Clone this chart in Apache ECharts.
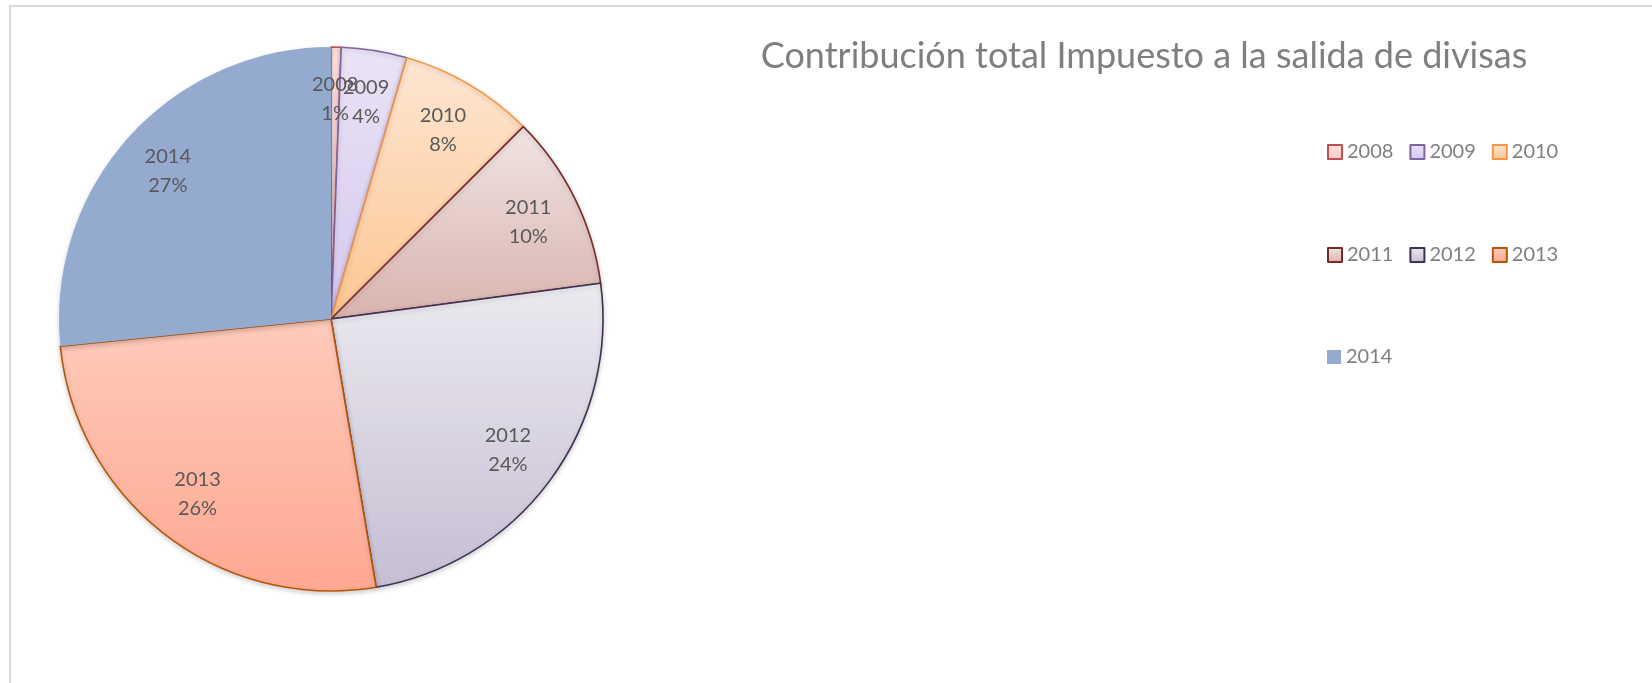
<!DOCTYPE html>
<html>
<head>
<meta charset="utf-8">
<script src="https://cdn.jsdelivr.net/npm/echarts@6/dist/echarts.min.js"></script>
<style>
html, body { margin: 0; padding: 0; background: #ffffff; }
#chart { width: 1652px; height: 683px; }
</style>
</head>
<body>
<div id="chart"></div>
<script>
// datos: participacion por año (en %)
var years = ['2008', '2009', '2010', '2011', '2012', '2013', '2014'];
var shares = [0.6, 3.9, 8.0, 10.4, 24.45, 26.05, 26.6];
var legendRows = [['2008', '2009', '2010'], ['2011', '2012', '2013'], ['2014']];

// colores: degradado arriba/abajo y borde de cada porcion
var topColors = ['#ffe2e2', '#ebe3f6', '#fee6d2', '#f0e4e3', '#eceaf0', '#fecbbb', '#95aacf'];
var bottomColors = ['#fcc9c9', '#d5c8ee', '#fcc692', '#d9b3ae', '#c6bed3', '#fea891', '#95aacf'];
var borderColors = ['#c0504d', '#8064a2', '#f79646', '#772c2a', '#3f3151', '#b65708', null];

var fontName = 'Lato';

function gradient(i) {
    return new echarts.graphic.LinearGradient(0, 0, 0, 1, [
        {offset: 0, color: topColors[i]},
        {offset: 1, color: bottomColors[i]}
    ], false);
}

var total = 0;
for (var i = 0; i < shares.length; i++) {
    total += shares[i];
}

var pieData = [];
var labelData = [];
for (var i = 0; i < years.length; i++) {
    var style = {color: gradient(i)};
    if (borderColors[i]) {
        style.borderColor = borderColors[i];
        style.borderWidth = 1.6;
    } else {
        style.borderWidth = 0;
    }
    pieData.push({name: years[i], value: shares[i], itemStyle: style});
    labelData.push({name: years[i], value: shares[i]});
}

var legends = [];
var rowTops = [137, 240, 342];
for (var r = 0; r < legendRows.length; r++) {
    legends.push({
        left: 1322,
        top: rowTops[r],
        orient: 'horizontal',
        itemWidth: 14,
        itemHeight: 14,
        itemGap: 16,
        icon: 'rect',
        selectedMode: false,
        data: legendRows[r],
        textStyle: {
            color: '#7f7f7f',
            fontFamily: fontName,
            fontSize: 20,
            lineHeight: 20,
            padding: [0, 0, 0, 0]
        }
    });
}

var chart = echarts.init(document.getElementById('chart'));
var option = {
    backgroundColor: '#ffffff',
    animation: false,
    title: {
        text: 'Contribución total Impuesto a la salida de divisas',
        left: 1139,
        textAlign: 'center',
        top: 33,
        textStyle: {
            color: '#7f7f7f',
            fontFamily: fontName,
            fontWeight: 'normal',
            fontSize: 36
        }
    },
    legend: legends,
    graphic: [{
        type: 'rect',
        silent: true,
        shape: {x: 10, y: 6, width: 1700, height: 720},
        style: {fill: 'none', stroke: '#d9d9d9', lineWidth: 2}
    }],
    series: [
        {
            type: 'pie',
            center: [331, 319],
            radius: [0, 272],
            startAngle: 90,
            clockwise: true,
            label: {show: false},
            labelLine: {show: false},
            emphasis: {disabled: true},
            itemStyle: {
                shadowBlur: 5,
                shadowColor: 'rgba(0,0,0,0.18)',
                shadowOffsetY: 2
            },
            data: pieData
        },
        {
            // serie transparente solo para las etiquetas (mas cerca del borde)
            type: 'pie',
            center: [331, 319],
            radius: [162, 272],
            startAngle: 90,
            clockwise: true,
            silent: true,
            avoidLabelOverlap: false,
            labelLayout: {hideOverlap: false},
            itemStyle: {color: 'rgba(0,0,0,0)', borderWidth: 0},
            label: {
                show: true,
                position: 'inside',
                color: '#595959',
                fontFamily: fontName,
                fontSize: 20,
                lineHeight: 29,
                formatter: function (p) {
                    return p.name + '\n' + Math.round(p.value / total * 100) + '%';
                }
            },
            labelLine: {show: false},
            emphasis: {disabled: true},
            data: labelData
        }
    ]
};
chart.setOption(option);
</script>
</body>
</html>
